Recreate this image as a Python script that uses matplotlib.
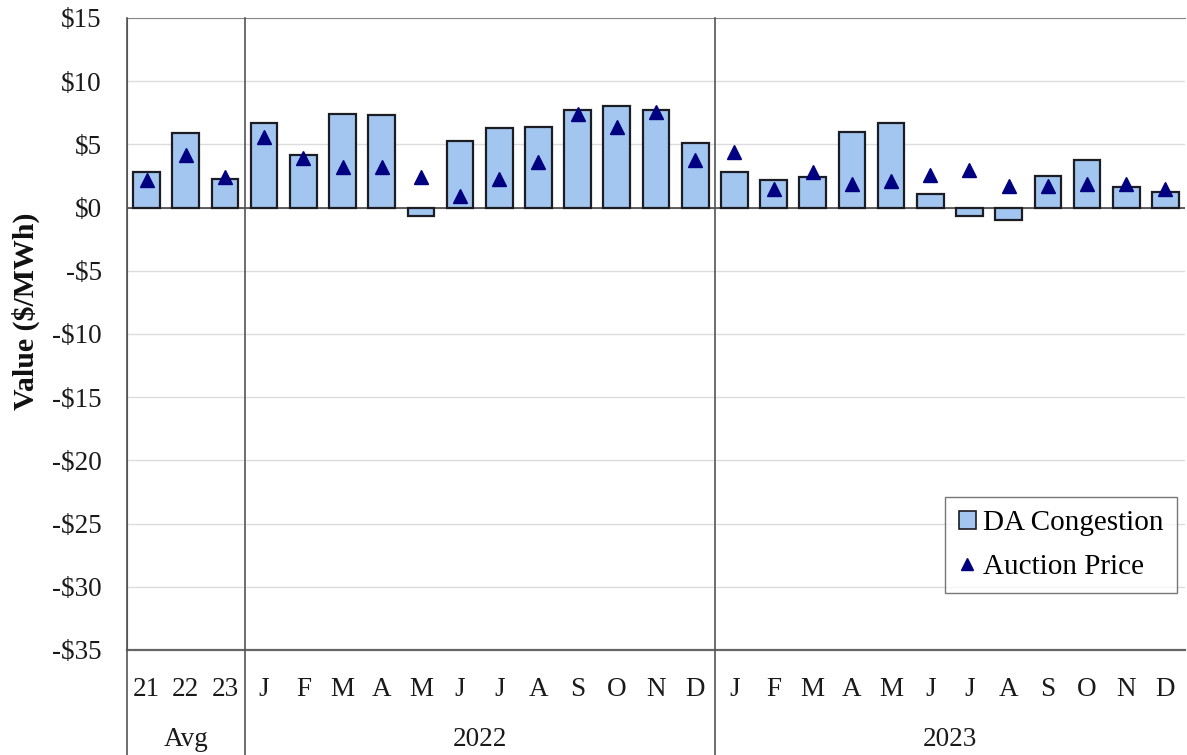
import matplotlib
matplotlib.use("Agg")
import matplotlib.pyplot as plt
from matplotlib.lines import Line2D
from matplotlib.patches import Patch

categories = ["21", "22", "23",
              "J", "F", "M", "A", "M", "J", "J", "A", "S", "O", "N", "D",
              "J", "F", "M", "A", "M", "J", "J", "A", "S", "O", "N", "D"]
groups = ["Avg", "2022", "2023"]
group_sizes = [3, 12, 12]

da_congestion = [2.8, 5.9, 2.3,
                 6.7, 4.2, 7.4, 7.3, -0.7, 5.3, 6.3, 6.4, 7.7, 8.0, 7.7, 5.1,
                 2.8, 2.2, 2.4, 6.0, 6.7, 1.1, -0.7, -1.0, 2.5, 3.8, 1.6, 1.2]
auction_price = [2.2, 4.2, 2.4,
                 5.6, 3.9, 3.2, 3.2, 2.4, 0.9, 2.3, 3.6, 7.4, 6.4, 7.6, 3.8,
                 4.4, 1.5, 2.8, 1.9, 2.1, 2.6, 3.0, 1.7, 1.7, 1.9, 1.9, 1.5]
yticks = [15, 10, 5, 0, -5, -10, -15, -20, -25, -30, -35]

plt.rcParams['font.family'] = ['Liberation Serif', 'DejaVu Serif']

W, H = 1187, 755
fig = plt.figure(figsize=(W / 100, H / 100), dpi=100)
ax_left, ax_right, ax_top, ax_bot = 127, 1185, 18, 650
axw, axh = ax_right - ax_left, ax_bot - ax_top
ax = fig.add_axes([ax_left / W, 1 - ax_bot / H, axw / W, axh / H])

x = list(range(len(categories)))
ax.bar(x, da_congestion, width=0.68, color="#A3C6F0", edgecolor="#1c1c24",
       linewidth=1.6, zorder=3)
ax.plot(x, auction_price, linestyle="none", marker="^", markersize=10,
        color="#000080", zorder=4)

ax.set_xlim(-0.5, len(categories) - 0.5)
ax.set_ylim(-35, 15)
ax.set_yticks(yticks)
ax.set_yticklabels([("-$%d" % abs(v)) if v < 0 else ("$%d" % v) for v in yticks],
                   fontsize=19.5, color="#1a1a1a")
ax.yaxis.grid(True, color="#dcdcdc", linewidth=1.0, zorder=0)
ax.axhline(0, color="#444444", linewidth=1.2, zorder=2)
ax.tick_params(axis="y", length=0, pad=18)
ax.set_xticks([])
ax.set_ylabel("Value ($/MWh)", fontsize=21.5, fontweight="bold", color="#111111")
ax.yaxis.set_label_coords((26 - ax_left) / axw, (ax_bot - 311) / axh)
ax.yaxis.label.set_va("center")

ax.spines["right"].set_visible(False)
ax.spines["top"].set_color("#888888")
ax.spines["bottom"].set_color("#666666")
ax.spines["bottom"].set_linewidth(1.6)
ax.spines["left"].set_color("#555555")

trans = ax.get_xaxis_transform()
for i, c in enumerate(categories):
    ax.text(i, -(689 - ax_bot) / axh, c, transform=trans, ha="center",
            va="center", fontsize=19.5, color="#1a1a1a")

start = 0
bottom_frac = -(H - ax_bot) / axh
boundaries = [-0.5]
for g, n in zip(groups, group_sizes):
    end = start + n
    ax.text((start + end - 1) / 2, -(739 - ax_bot) / axh, g, transform=trans,
            ha="center", va="center", fontsize=19.5, color="#1a1a1a")
    boundaries.append(end - 0.5)
    start = end
for b in boundaries[:-1]:
    ax.plot([b, b], [bottom_frac, 1], transform=trans, color="#555555",
            linewidth=1.2, clip_on=False, zorder=5)

handles = [Patch(facecolor="#A3C6F0", edgecolor="#1c1c24", linewidth=1.2),
           Line2D([], [], linestyle="none", marker="^", markersize=9, color="#000080")]
leg = ax.legend(handles, ["DA Congestion", "Auction Price"], loc="lower right",
                bbox_to_anchor=((1177 - ax_left) / axw, (ax_bot - 593) / axh),
                fontsize=21, frameon=True, fancybox=False, edgecolor="#555555",
                handlelength=0.6, handleheight=0.6, handletextpad=0.25,
                labelspacing=0.6, borderpad=0.45, borderaxespad=0)
leg.get_frame().set_linewidth(1.0)

fig.savefig("out.png", dpi=100)
